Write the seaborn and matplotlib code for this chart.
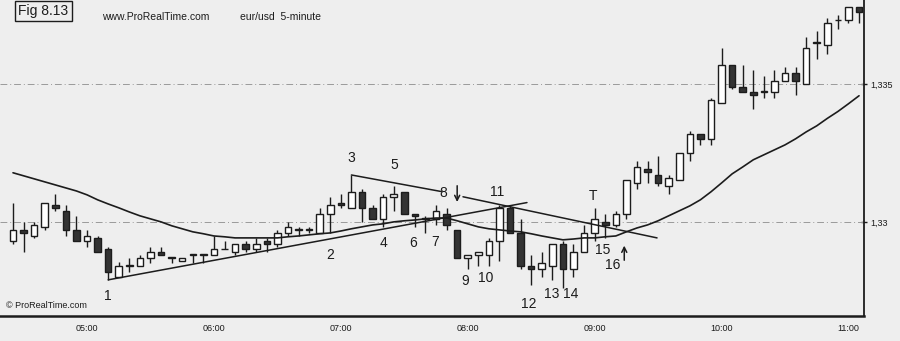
import matplotlib
matplotlib.use("Agg")
import matplotlib.pyplot as plt
import pandas as pd
import seaborn as sns

# ─── data: eur/usd 5-minute bars, 04:25 → 11:05 ─────────────────────
opens = [1.3293, 1.3297, 1.3295, 1.3298, 1.3306, 1.3304, 1.3297, 1.3293, 1.3294, 1.3290,
         1.3280, 1.3284, 1.3284, 1.3287, 1.3289, 1.3287, 1.3286, 1.3288, 1.3288, 1.3288,
         1.3290, 1.3289, 1.3292, 1.3290, 1.3293, 1.3292, 1.3296, 1.3297, 1.3297, 1.3296,
         1.3303, 1.3307, 1.3305, 1.3311, 1.3305, 1.3301, 1.3309, 1.3311, 1.3303, 1.3301,
         1.3301, 1.3303, 1.3297, 1.3287, 1.3288, 1.3288, 1.3293, 1.3305, 1.3296, 1.3284,
         1.3283, 1.3284, 1.3292, 1.3283, 1.3289, 1.3296, 1.3300, 1.3299, 1.3303, 1.3314,
         1.3319, 1.3317, 1.3313, 1.3315, 1.3325, 1.3332, 1.3330, 1.3343, 1.3357, 1.3349,
         1.3347, 1.3347, 1.3347, 1.3351, 1.3354, 1.3350, 1.3365, 1.3364, 1.3373, 1.3373,
         1.3378]
highs = [1.3307, 1.3300, 1.3300, 1.3307, 1.3310, 1.3306, 1.3302, 1.3297, 1.3295, 1.3291,
         1.32855, 1.3287, 1.3288, 1.3291, 1.3291, 1.3287, 1.3287, 1.3288, 1.3288, 1.3295,
         1.3293, 1.3292, 1.3293, 1.3294, 1.3294, 1.3297, 1.3300, 1.3298, 1.3298, 1.3305,
         1.3309, 1.3310, 1.3317, 1.3312, 1.3306, 1.3310, 1.3313, 1.3311, 1.3303, 1.3302,
         1.3306, 1.3305, 1.3297, 1.3288, 1.3289, 1.3294, 1.3306, 1.3306, 1.3301, 1.3288,
         1.3289, 1.3292, 1.3293, 1.3292, 1.3299, 1.3305, 1.3303, 1.3304, 1.3315, 1.3322,
         1.3322, 1.3324, 1.3317, 1.3325, 1.3333, 1.3332, 1.3345, 1.3363, 1.3357, 1.3357,
         1.3355, 1.3353, 1.3355, 1.3356, 1.3356, 1.3367, 1.3369, 1.3374, 1.3375, 1.3378,
         1.3378]
lows = [1.3292, 1.3289, 1.3294, 1.3297, 1.3304, 1.3295, 1.3293, 1.3291, 1.3289, 1.3279,
        1.3280, 1.3282, 1.3284, 1.3285, 1.3288, 1.3285, 1.3286, 1.3285, 1.3285, 1.3288,
        1.3290, 1.3288, 1.3289, 1.3289, 1.3289, 1.3291, 1.3295, 1.3295, 1.3296, 1.3296,
        1.3296, 1.3305, 1.3305, 1.3300, 1.3301, 1.3298, 1.3304, 1.3303, 1.3298, 1.3296,
        1.3299, 1.3297, 1.3287, 1.3283, 1.3284, 1.3284, 1.3286, 1.3296, 1.3283, 1.3277,
        1.3280, 1.3279, 1.3276, 1.3280, 1.3289, 1.3293, 1.3294, 1.3298, 1.3301, 1.3312,
        1.3314, 1.3313, 1.3310, 1.3315, 1.3322, 1.3328, 1.3328, 1.3343, 1.3348, 1.3347,
        1.3341, 1.3345, 1.3345, 1.3351, 1.3346, 1.3350, 1.3359, 1.3361, 1.3370, 1.3372,
        1.3372]
closes = [1.3297, 1.3296, 1.3299, 1.3307, 1.3305, 1.3297, 1.3293, 1.3295, 1.3289, 1.3282,
          1.3284, 1.3284, 1.3287, 1.3289, 1.3288, 1.3287, 1.3287, 1.3288, 1.3288, 1.3290,
          1.3290, 1.3292, 1.3290, 1.3292, 1.3292, 1.3296, 1.3298, 1.3297, 1.3297, 1.3303,
          1.3306, 1.3306, 1.3311, 1.3305, 1.3301, 1.3309, 1.3310, 1.3303, 1.3302, 1.3301,
          1.3304, 1.3299, 1.3287, 1.3288, 1.3289, 1.3293, 1.3305, 1.3296, 1.3284, 1.3283,
          1.3285, 1.3292, 1.3283, 1.3289, 1.3296, 1.3301, 1.3299, 1.3303, 1.3315, 1.3320,
          1.3318, 1.3314, 1.3316, 1.3325, 1.3332, 1.3330, 1.3344, 1.3357, 1.3349, 1.3347,
          1.3346, 1.3347, 1.3351, 1.3354, 1.3351, 1.3363, 1.3365, 1.3372, 1.3373, 1.3378,
          1.3376]
# moving average curve as drawn on the chart
ma = [1.33178, 1.33167, 1.33156, 1.33145, 1.33134, 1.33123, 1.33112, 1.33098, 1.33080, 1.33065,
      1.33051, 1.33036, 1.33022, 1.33011, 1.33000, 1.32986, 1.32975, 1.32964, 1.32957, 1.32949,
      1.32946, 1.32942, 1.32942, 1.32942, 1.32942, 1.32942, 1.32946, 1.32949, 1.32953, 1.32957,
      1.32960, 1.32967, 1.32975, 1.32982, 1.32989, 1.32993, 1.33000, 1.33004, 1.33007, 1.33011,
      1.33014, 1.33014, 1.33004, 1.32993, 1.32982, 1.32975, 1.32971, 1.32967, 1.32964, 1.32957,
      1.32949, 1.32942, 1.32935, 1.32938, 1.32942, 1.32942, 1.32946, 1.32949, 1.32964, 1.32978,
      1.32989, 1.33004, 1.33022, 1.33040, 1.33058, 1.33080, 1.33109, 1.33141, 1.33174, 1.33199,
      1.33225, 1.33243, 1.33261, 1.33279, 1.33301, 1.33326, 1.33348, 1.33375, 1.33400, 1.33428,
      1.33457]

# hand-drawn trendlines (bar index, price)
trend_up_x, trend_up_y = [9, 48.6], [1.3279, 1.3307]
trend_top_x, trend_top_y = [32, 40.5], [1.3317, 1.3311]
trend_down_x, trend_down_y = [42.55, 60.9], [1.33091, 1.32942]

# swing labels (text, bar index, price)
swing_labels = [("1", 9.0, 1.32732), ("2", 30.0, 1.32880), ("3", 31.96, 1.33232),
                ("4", 35.0, 1.32924), ("5", 36.03, 1.33207), ("6", 37.8, 1.32924),
                ("7", 39.9, 1.32928), ("8", 40.66, 1.33105), ("9", 42.8, 1.32786),
                ("10", 44.7, 1.32797), ("11", 45.8, 1.33109), ("12", 48.8, 1.32703),
                ("13", 50.9, 1.32739), ("14", 52.7, 1.32739), ("T", 54.85, 1.33094),
                ("15", 55.8, 1.32899), ("16", 56.7, 1.32844)]

times = pd.date_range("2007-01-01 04:25", periods=len(opens), freq="5min")
df = pd.DataFrame({"bar": range(len(opens)), "time": times, "open": opens,
                   "high": highs, "low": lows, "close": closes, "ma": ma})

# ─── style ───────────────────────────────────────────────────────────
sns.set_theme(style="white")
plt.rcParams["font.family"] = ["Liberation Sans", "DejaVu Sans"]
PAPER = "#eeeeee"
INK = "#1c1c1c"

fig = plt.figure(figsize=(9, 3.41), dpi=100, facecolor=PAPER)
ax = fig.add_axes([0.0, 25 / 341, 864 / 900, 316 / 341])
ax.set_facecolor(PAPER)

# wicks
ax.vlines(df["bar"], df["low"], df["high"], color=INK, linewidth=1.0, zorder=2)

# bodies
up = df["close"] >= df["open"]
body_lo = df[["open", "close"]].min(axis=1)
body_h = (df["close"] - df["open"]).abs().clip(lower=0.00003)
ax.bar(df["bar"][up], body_h[up], bottom=body_lo[up], width=0.62,
       color="white", edgecolor=INK, linewidth=1.0, zorder=3)
ax.bar(df["bar"][~up], body_h[~up], bottom=body_lo[~up], width=0.62,
       color="#333333", edgecolor=INK, linewidth=1.0, zorder=3)

# moving average
sns.lineplot(data=df, x="bar", y="ma", color=INK, linewidth=1.2, ax=ax, zorder=4)

# trendlines
for tx, ty in [(trend_up_x, trend_up_y), (trend_top_x, trend_top_y),
               (trend_down_x, trend_down_y)]:
    ax.plot(tx, ty, color=INK, linewidth=1.1, zorder=4)

for txt, bx, py in swing_labels:
    ax.text(bx, py, txt, ha="center", va="center", fontsize=10, color=INK, zorder=5)

# arrows at 8 and 16
ax.annotate("", xy=(42.0, 1.33062), xytext=(42.0, 1.33141),
            arrowprops=dict(arrowstyle="->", color=INK, lw=1.1, mutation_scale=9))
ax.annotate("", xy=(57.8, 1.32924), xytext=(57.8, 1.32851),
            arrowprops=dict(arrowstyle="->", color=INK, lw=1.1, mutation_scale=9))

# grid at price levels
for lvl in [1.33, 1.335]:
    ax.axhline(lvl, color="#9a9a9a", linewidth=0.7, linestyle=(0, (7, 3, 1, 3)), zorder=1)

# ─── axes ────────────────────────────────────────────────────────────
ax.set_xlim(-1.23, 80.47)
ax.set_ylim(1.32659, 1.33804)
hours = df[df["time"].dt.minute == 0]
ax.set_xticks(hours["bar"])
ax.set_xticklabels(hours["time"].dt.strftime("%H:%M"), fontsize=6.5, color=INK)
ax.yaxis.tick_right()
ax.set_yticks([1.33, 1.335])
ax.set_yticklabels(["1,33", "1,335"], fontsize=6.5, color=INK)
ax.tick_params(axis="x", direction="inout", length=5, width=1, color=INK, pad=3)
ax.tick_params(axis="y", direction="inout", length=5, width=1, color=INK, pad=2)
ax.set_xlabel("")
ax.set_ylabel("")
for side in ["left", "top"]:
    ax.spines[side].set_visible(False)
ax.spines["bottom"].set_linewidth(1.8)
ax.spines["bottom"].set_color(INK)
ax.spines["right"].set_linewidth(1.3)
ax.spines["right"].set_color(INK)

# header texts
fig.text(18 / 900, 1 - 11 / 341, "Fig 8.13", fontsize=10, color=INK, va="center",
         bbox=dict(boxstyle="square,pad=0.25", fc="none", ec=INK, lw=1))
fig.text(102 / 900, 1 - 17 / 341, "www.ProRealTime.com", fontsize=7.5, color=INK, va="center")
fig.text(240 / 900, 1 - 17 / 341, "eur/usd  5-minute", fontsize=7.5, color=INK, va="center")
fig.text(6 / 900, 1 - 306 / 341, "© ProRealTime.com", fontsize=6.5, color=INK, va="center")

fig.savefig("out.png", dpi=100, facecolor=PAPER)
